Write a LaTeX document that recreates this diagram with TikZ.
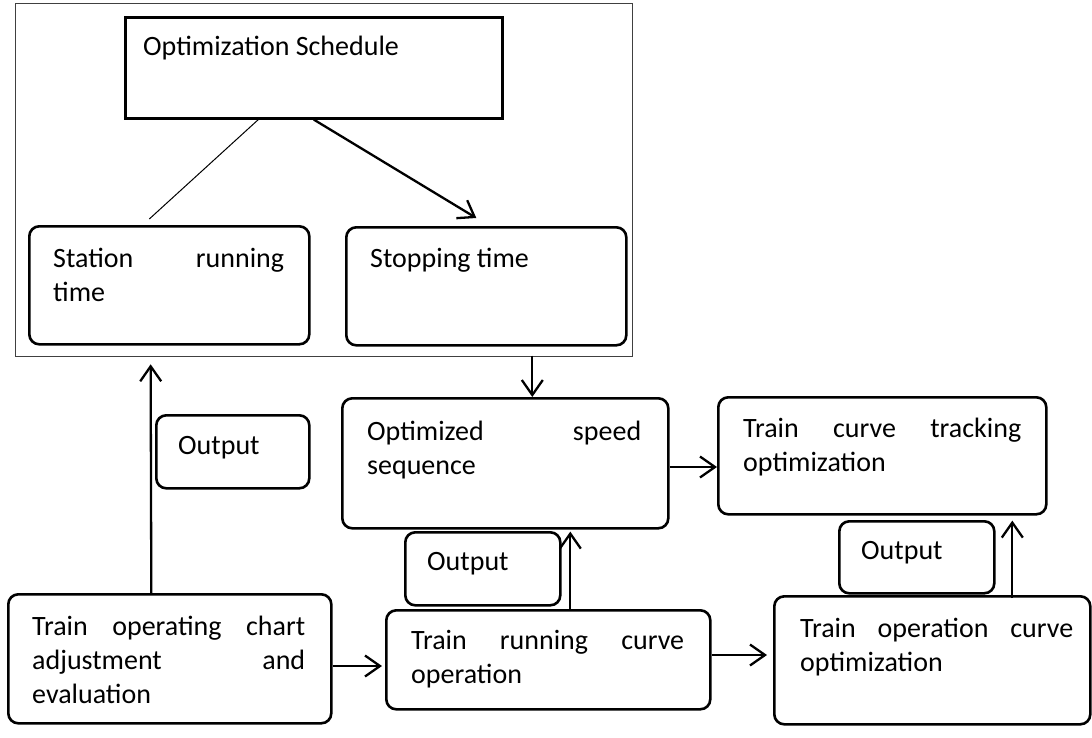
\documentclass[tikz,border=0pt]{standalone}
\usepackage{fontspec}
\setmainfont{Carlito}
\usetikzlibrary{arrows.meta}
\begin{document}
\begin{tikzpicture}[x=1pt,y=-1pt,
  box/.style={draw, line width=2.6pt, rounded corners=10pt, anchor=north west, inner sep=0pt},
  sharpbox/.style={draw, line width=2.6pt, anchor=north west, inner sep=0pt},
  framebox/.style={draw=black!75, line width=1.3pt, anchor=north west, inner sep=0pt},
  txt/.style={anchor=north west, inner sep=0pt, align=left, font=\fontsize{28}{34}\selectfont},
  arr/.style={line width=2.3pt, -{Straight Barb[length=15pt,width=21pt,line width=2.3pt]}},
  thin/.style={line width=1pt},
]
\useasboundingbox (0,0) rectangle (1092,737);
\fill[white] (0,0) rectangle (1092,737);

% frame and boxes
\node[framebox, minimum width=617pt, minimum height=353pt] (frame) at (15,3) {};
\node[sharpbox, minimum width=377pt, minimum height=101pt] (sched) at (124,16) {};
\node[box, minimum width=280pt, minimum height=118pt] (station) at (28,225) {};
\node[box, minimum width=280pt, minimum height=118pt] (stop) at (345,226) {};
\node[box, minimum width=153pt, minimum height=73pt] (out1) at (155,414) {};
\node[box, minimum width=326pt, minimum height=130pt] (speed) at (341,397) {};
\node[box, minimum width=328pt, minimum height=117pt] (track) at (717,396) {};
\node[box, minimum width=155pt, minimum height=73pt] (out2) at (404,531) {};
\node[box, minimum width=155pt, minimum height=72pt] (out3) at (838,520) {};
\node[box, minimum width=324pt, minimum height=99pt] (run) at (385,609) {};
\node[box, minimum width=316pt, minimum height=128pt] (opc) at (773,595) {};
\node[box, minimum width=323pt, minimum height=129pt] (chart) at (7,593) {};

% texts
\node[txt] (schedT) at (143,31.2) {\strut Optimization Schedule};
\node[txt, text width=231pt] (stationT) at (53,243.2) {\strut Station\hfill running\\ time};
\node[txt] (stopT) at (370,243.2) {\strut Stopping time};
\node[txt] (out1T) at (178,430.2) {\strut Output};
\node[txt, text width=274pt] (speedT) at (367,416.2) {\strut Optimized\hfill speed\\ sequence};
\node[txt] (out2T) at (427,546.2) {\strut Output};
\node[txt, text width=273pt] (runT) at (411,625.2) {\strut Train\hfill running\hfill curve\\ operation};
\node[txt, text width=278pt] (trackT) at (743,413.2) {\strut Train\hfill curve\hfill tracking\\ optimization};
\node[txt] (out3T) at (861,535.2) {\strut Output};
\node[txt, text width=273pt] (opcT) at (800,613.2) {\strut Train\hfill operation\hfill curve\\ optimization};
\node[txt, text width=273pt] (chartT) at (32,611.2) {\strut Train\hfill operating\hfill chart\\ adjustment\hfill and\\ evaluation};

% connectors
\draw[thin] ([xshift=-55.5pt]sched.south) -- ([xshift=-20pt,yshift=6pt]station.north);
\draw[arr] (sched.south) -- ([xshift=-10pt,yshift=8pt]stop.north);
\draw[arr] ([xshift=-18.5pt]chart.north) -- ([xshift=-173.5pt,yshift=-7pt]frame.south);
\draw[arr] ([xshift=46pt,yshift=-9pt]stop.south) -- ([xshift=27pt]speed.north);
\draw[arr] ([yshift=-70pt]speed.north east) -- ([yshift=-71pt]track.north west);
\draw[arr] ([xshift=22pt]run.north) -- ([xshift=65pt,yshift=-2pt]speed.south);
\draw[arr] ([yshift=-46pt]run.north east) -- ([xshift=-6pt,yshift=-60pt]opc.north west);
\draw[arr] ([xshift=80pt,yshift=-3pt]opc.north) -- ([xshift=130pt,yshift=-5pt]track.south);
\draw[arr] ([yshift=-73pt]chart.north east) -- ([xshift=-3pt,yshift=-57pt]run.north west);
\end{tikzpicture}
\end{document}
